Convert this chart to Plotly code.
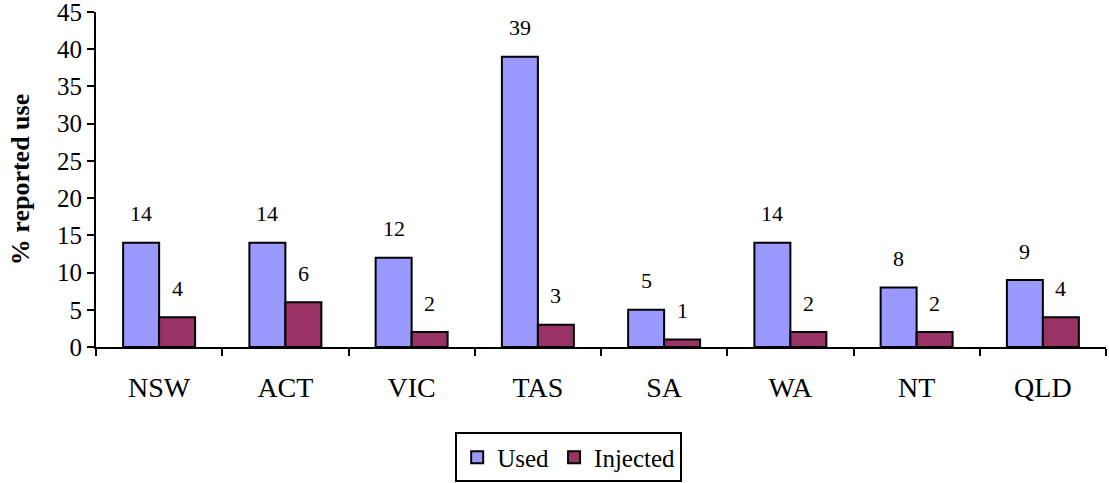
import plotly.graph_objects as go

categories = ["NSW", "ACT", "VIC", "TAS", "SA", "WA", "NT", "QLD"]
used = [14, 14, 12, 39, 5, 14, 8, 9]
injected = [4, 6, 2, 3, 1, 2, 2, 4]
y_ticks = [0, 5, 10, 15, 20, 25, 30, 35, 40, 45]

FONT = "Liberation Serif, DejaVu Serif, serif"

fig = go.Figure()
fig.add_trace(go.Bar(x=categories, y=used, name="Used",
                     marker=dict(color="#9999FF", line=dict(color="black", width=2))))
fig.add_trace(go.Bar(x=categories, y=injected, name="Injected",
                     marker=dict(color="#993366", line=dict(color="black", width=2))))

for cat, u, inj in zip(categories, used, injected):
    fig.add_annotation(x=cat, y=u, text=str(u), showarrow=False, xshift=-18,
                       yshift=29, font=dict(family=FONT, size=22, color="black"))
    fig.add_annotation(x=cat, y=inj, text=str(inj), showarrow=False, xshift=18,
                       yshift=29, font=dict(family=FONT, size=22, color="black"))

fig.update_layout(
    width=1109, height=483,
    margin=dict(l=96, r=3, t=12, b=136, autoexpand=False),
    plot_bgcolor="white", paper_bgcolor="white",
    barmode="group", bargap=0.43, bargroupgap=0,
    font=dict(family=FONT, size=24, color="black"),
    showlegend=True,
    legend=dict(orientation="h", x=0.468, xanchor="center", xref="paper",
                y=-0.255, yanchor="top", bordercolor="black", borderwidth=2,
                font=dict(family=FONT, size=25), itemwidth=30,
                traceorder="normal", tracegroupgap=0),
)
fig.update_xaxes(showline=True, linecolor="black", linewidth=2,
                 ticks="outside", tickson="boundaries", ticklen=7,
                 tickwidth=2, tickcolor="black", showgrid=False,
                 tickfont=dict(family=FONT, size=28), ticklabelstandoff=14)
fig.update_yaxes(range=[0, 45], tickvals=y_ticks, showline=True,
                 linecolor="black", linewidth=2, ticks="outside", ticklen=7,
                 tickwidth=2, tickcolor="black", showgrid=False, zeroline=False,
                 ticklabeloverflow="allow",
                 tickfont=dict(family=FONT, size=25),
                 title=dict(text="<b>% reported use</b>", standoff=20,
                            font=dict(family=FONT, size=26)))

fig.write_html("out.html",
               config={"displayModeBar": False},
               post_script="document.body.style.margin='0';")
